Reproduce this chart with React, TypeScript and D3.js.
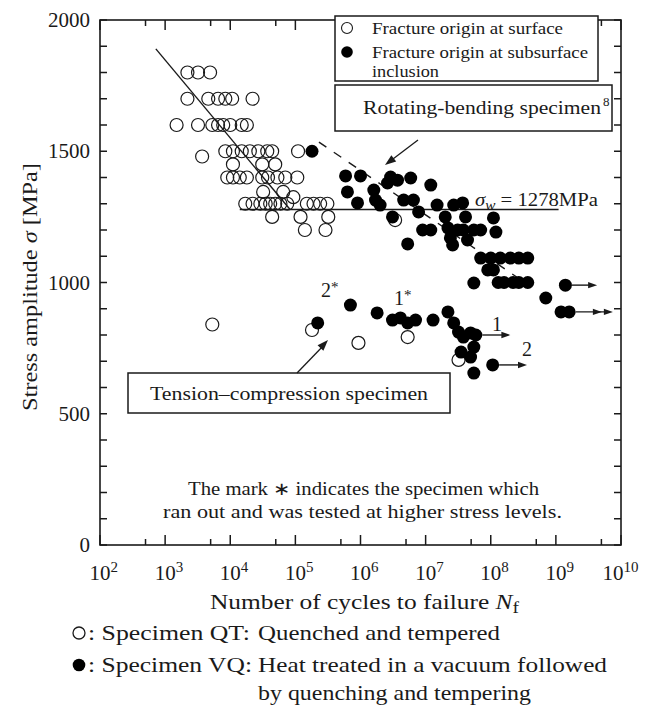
import React from "react";
import * as d3 from "d3";

// Rotating-bending, specimen QT (open, fracture at surface)
const rbQT: [number, number][] = [
  [2.2e3, 1800], [3.2e3, 1800], [4.9e3, 1800],
  [2.2e3, 1700], [4.6e3, 1700], [6.5e3, 1700], [8.4e3, 1700], [1.07e4, 1700], [2.2e4, 1700],
  [1.5e3, 1600], [3.2e3, 1600], [5.3e3, 1600], [6.5e3, 1600], [7.8e3, 1600], [1.0e4, 1600], [1.5e4, 1600], [1.8e4, 1600],
  [3.7e3, 1480],
  [8.4e3, 1500], [1.1e4, 1500], [1.5e4, 1500], [2.0e4, 1500], [2.7e4, 1500], [3.7e4, 1500], [4.4e4, 1500], [1.1e5, 1500],
  [1.1e4, 1450], [3.1e4, 1450], [4.9e4, 1450],
  [9.0e3, 1400], [1.1e4, 1400], [1.4e4, 1400], [1.8e4, 1400], [3.1e4, 1400], [3.8e4, 1400], [5.3e4, 1400], [7.0e4, 1400], [1.07e5, 1400],
  [3.2e4, 1345], [6.5e4, 1345], [9.3e4, 1325],
  [1.7e4, 1300], [2.2e4, 1300], [2.9e4, 1300], [3.5e4, 1300], [4.1e4, 1300], [4.9e4, 1300], [5.9e4, 1300], [7.5e4, 1300],
  [1.5e5, 1300], [1.9e5, 1300], [2.4e5, 1300], [3.1e5, 1300],
  [4.4e4, 1250], [1.2e5, 1250], [3.2e5, 1250],
  [1.4e5, 1200], [2.9e5, 1200],
  [3.4e6, 1238],
  [5.3e3, 840],
];

// Rotating-bending, specimen VQ (filled, fracture at subsurface inclusion)
const rbVQ: [number, number][] = [
  [1.8e5, 1500],
  [5.9e5, 1406], [1.0e6, 1406], [6.3e5, 1345], [9.0e5, 1303],
  [1.6e6, 1352], [1.7e6, 1314], [2.0e6, 1295], [2.6e6, 1379], [2.9e6, 1402], [3.1e6, 1250],
  [3.7e6, 1390], [5.9e6, 1398], [4.6e6, 1314], [6.5e6, 1314], [7.8e6, 1269], [1.2e7, 1371],
  [5.3e6, 1147], [9.0e6, 1200], [1.2e7, 1200],
  [1.5e7, 1295], [2.0e7, 1250], [2.7e7, 1295], [3.7e7, 1303],
  [2.2e7, 1208], [2.4e7, 1170], [3.1e7, 1200], [3.8e7, 1200], [5.5e7, 1200], [7.0e7, 1200],
  [4.1e7, 1250], [4.4e7, 1162], [1.1e8, 1246], [1.2e8, 1192], [2.6e7, 1143],
  [7.0e7, 1093], [1.0e8, 1093], [1.4e8, 1093], [2.0e8, 1093], [2.7e8, 1093], [3.7e8, 1093],
  [9.0e7, 1048], [1.1e8, 1048],
  [5.5e7, 998], [1.3e8, 1000], [1.6e8, 1000], [2.2e8, 1000], [2.7e8, 1000], [3.7e8, 1000],
  [7.0e8, 941],
  [1.4e9, 990], [1.2e9, 888], [1.6e9, 888],
];

// Tension-compression, specimen QT (open)
const tcQT: [number, number][] = [
  [1.8e5, 819], [9.3e5, 770], [5.3e6, 792], [3.2e7, 705],
];

// Tension-compression, specimen VQ (filled)
const tcVQ: [number, number][] = [
  [2.2e5, 846], [7.0e5, 914], [1.8e6, 884], [3.1e6, 857], [4.1e6, 865], [5.3e6, 846],
  [7.0e6, 857], [1.3e7, 857], [2.2e7, 888], [2.7e7, 846], [3.2e7, 811], [3.8e7, 792],
  [4.9e7, 808], [5.9e7, 800], [5.5e7, 754], [3.5e7, 735], [4.9e7, 716], [5.5e7, 655],
  [1.07e8, 686],
];

// Run-outs: [start N, stress, end N, number of heads]
const runouts: [number, number, number, number][] = [
  [1.4e9, 990, 4.3e9, 1],
  [1.6e9, 888, 7.5e9, 2],
  [5.9e7, 800, 2.0e8, 1],
  [1.07e8, 686, 3.6e8, 1],
];

// S-N lines
const kneeLine: [number, number][] = [[7.2e2, 1890], [8.3e4, 1278]];
const fatigueLimit: [number, number][] = [[1.4e4, 1278], [1.1e9, 1278]];
const dashedLine: [number, number][] = [[2.3e5, 1535], [2.9e8, 1010]];

const xTicks = [1e2, 1e3, 1e4, 1e5, 1e6, 1e7, 1e8, 1e9, 1e10];
const xMinor = [5e2, 5e3, 5e4, 5e5, 5e6, 5e7, 5e8, 5e9];
const yLabels = [0, 500, 1000, 1500, 2000];
const yMinor = d3.range(0, 2001, 100);

const FONT = '"Liberation Serif"';
const INK = "#1a1a1a";

type TP = {
  x: number; y: number; size: number; w?: number; anchor?: "start" | "middle" | "end";
  transform?: string; children: React.ReactNode;
};
const Txt = ({ x, y, size, w, anchor = "start", transform, children }: TP) => (
  <text
    x={x}
    y={y}
    fontSize={size}
    textAnchor={anchor}
    transform={transform}
    fill={INK}
    style={{ fontFamily: FONT }}
    {...(w ? { textLength: w, lengthAdjust: "spacingAndGlyphs" } : {})}
  >
    {children}
  </text>
);

export default function App() {
  const x = d3.scaleLog().domain([1e2, 1e10]).range([100, 621]);
  const y = d3.scaleLinear().domain([0, 2000]).range([545, 20]);
  const [x0, x1] = x.range();
  const [y0, y1] = y.range();
  const R = 6.5;
  const line = d3.line<[number, number]>().x((d) => x(d[0])).y((d) => y(d[1]));

  const arrowHead = (tx: number, ty: number, dx: number, dy: number, len = 9, w = 3.2) => {
    const L = Math.hypot(dx, dy);
    const ux = dx / L, uy = dy / L;
    const bx = tx - ux * len, by = ty - uy * len;
    return `M${tx},${ty}L${bx - uy * w},${by + ux * w}L${bx + uy * w},${by - ux * w}Z`;
  };

  return (
    <svg width={646} height={716} style={{ position: "absolute", left: 0, top: 0, background: "#fff" }}>
      <rect width={646} height={716} fill="#fff" />
      {/* frame */}
      <rect x={x0} y={y1} width={x1 - x0} height={y0 - y1} fill="none" stroke={INK} strokeWidth={1.6} />
      {xTicks.map((t) => (
        <g key={"xt" + t}>
          <line x1={x(t)} x2={x(t)} y1={y0} y2={y0 - 10} stroke={INK} strokeWidth={1.5} />
          <line x1={x(t)} x2={x(t)} y1={y1} y2={y1 + 10} stroke={INK} strokeWidth={1.5} />
        </g>
      ))}
      {xMinor.map((t) => (
        <g key={"xm" + t}>
          <line x1={x(t)} x2={x(t)} y1={y0} y2={y0 - 6} stroke={INK} strokeWidth={1.5} />
          <line x1={x(t)} x2={x(t)} y1={y1} y2={y1 + 6} stroke={INK} strokeWidth={1.5} />
        </g>
      ))}
      {yMinor.map((t) => (
        <g key={"ym" + t}>
          <line x1={x0} x2={x0 + 7} y1={y(t)} y2={y(t)} stroke={INK} strokeWidth={1.5} />
          <line x1={x1} x2={x1 - 7} y1={y(t)} y2={y(t)} stroke={INK} strokeWidth={1.5} />
        </g>
      ))}
      {yLabels.map((t) => (
        <Txt key={"yl" + t} x={x0 - 10} y={y(t) + 7} size={21} anchor="end">
          {t}
        </Txt>
      ))}
      {xTicks.map((t) => {
        const e = Math.round(Math.log10(t));
        const shift = e === 10 ? -8 : 0;
        return (
          <Txt key={"xl" + t} x={x(t) - 10.5 + shift} y={y0 + 35} size={21}>
            10
            <tspan fontSize={15} dy={-8}>{e}</tspan>
          </Txt>
        );
      })}
      {/* axis titles */}
      <Txt x={210} y={609} size={21} w={309}>
        Number of cycles to failure <tspan fontStyle="italic">N</tspan>
        <tspan fontSize={16} dy={4}>f</tspan>
      </Txt>
      <Txt x={0} y={0} size={21} w={248} anchor="middle" transform="translate(37,287) rotate(-90)">
        Stress amplitude <tspan fontStyle="italic">σ</tspan> [MPa]
      </Txt>

      {/* S-N lines */}
      <path d={line(kneeLine)!} stroke={INK} strokeWidth={1.4} fill="none" />
      <path d={line(fatigueLimit)!} stroke={INK} strokeWidth={1.4} fill="none" />
      <path d={line(dashedLine)!} stroke={INK} strokeWidth={1.4} fill="none" strokeDasharray="9,9" />

      {/* open circles */}
      {[...rbQT, ...tcQT].map((d, i) => (
        <circle key={"o" + i} cx={x(d[0])} cy={y(d[1])} r={R} fill="none" stroke={INK} strokeWidth={1.2} />
      ))}
      {/* filled circles */}
      {[...rbVQ, ...tcVQ].map((d, i) => (
        <circle key={"f" + i} cx={x(d[0])} cy={y(d[1])} r={R} fill="#000" />
      ))}
      {/* run-out arrows */}
      {runouts.map((r, i) => {
        const sx = x(r[0]) + R, ex = x(r[2]), yy = y(r[1]);
        return (
          <g key={"ro" + i}>
            <line x1={sx} x2={ex - 4} y1={yy} y2={yy} stroke={INK} strokeWidth={1.4} />
            <path d={arrowHead(ex, yy, 1, 0)} fill={INK} />
            {r[3] === 2 && <path d={arrowHead(ex - 11, yy, 1, 0)} fill={INK} />}
          </g>
        );
      })}

      {/* labels near run-outs */}
      <Txt x={497} y={331} size={20} anchor="middle">1</Txt>
      <Txt x={527} y={356} size={20} anchor="middle">2</Txt>
      <Txt x={326} y={297} size={20} anchor="middle">2</Txt>
      <Txt x={331} y={292} size={15}>*</Txt>
      <Txt x={399} y={305} size={20} anchor="middle">1</Txt>
      <Txt x={404} y={300} size={15}>*</Txt>

      {/* sigma_w label */}
      <Txt x={475} y={206} size={19} w={123}>
        <tspan fontStyle="italic">σ</tspan>
        <tspan fontStyle="italic" fontSize={14} dy={4}>w</tspan>
        <tspan dy={-4}> = 1278MPa</tspan>
      </Txt>

      {/* legend box */}
      <rect x={335} y={16} width={263} height={65} fill="#fff" stroke={INK} strokeWidth={1.5} />
      <circle cx={347} cy={28} r={5.5} fill="none" stroke={INK} strokeWidth={1.1} />
      <Txt x={372} y={34} size={16} w={191}>Fracture origin at surface</Txt>
      <circle cx={347} cy={52} r={5.8} fill="#000" />
      <Txt x={372} y={58} size={16} w={216}>Fracture origin at subsurface</Txt>
      <Txt x={372} y={77} size={16} w={67}>inclusion</Txt>

      {/* rotating-bending box */}
      <rect x={335} y={85} width={277} height={46} fill="#fff" stroke={INK} strokeWidth={1.5} />
      <Txt x={363} y={114} size={19} w={238}>Rotating-bending specimen</Txt>
      <Txt x={603} y={106} size={13} anchor="start">8</Txt>
      <line x1={418} y1={140} x2={389} y2={162} stroke={INK} strokeWidth={1.3} />
      <path d={arrowHead(385, 165, -33, 25, 11, 4)} fill={INK} />

      {/* tension-compression box */}
      <rect x={128} y={373} width={322} height={40} fill="#fff" stroke={INK} strokeWidth={1.5} />
      <Txt x={150} y={400} size={19} w={278}>Tension–compression specimen</Txt>
      <line x1={297} y1={373} x2={325} y2={344} stroke={INK} strokeWidth={1.3} />
      <path d={arrowHead(328, 340, 31, -33, 11, 4)} fill={INK} />

      {/* note */}
      <Txt x={188} y={495} size={18} w={351}>The mark ∗ indicates the specimen which</Txt>
      <Txt x={163} y={518} size={18} w={399}>ran out and was tested at higher stress levels.</Txt>

      {/* bottom legend */}
      <circle cx={79} cy={633} r={6} fill="none" stroke={INK} strokeWidth={1.3} />
      <Txt x={88} y={640} size={21} w={162}>: Specimen QT:</Txt>
      <Txt x={258} y={640} size={21} w={242}>Quenched and tempered</Txt>
      <circle cx={79} cy={665} r={6.3} fill="#000" />
      <Txt x={88} y={672} size={21} w={164}>: Specimen VQ:</Txt>
      <Txt x={258} y={672} size={21} w={349}>Heat treated in a vacuum followed</Txt>
      <Txt x={258} y={700} size={21} w={273}>by quenching and tempering</Txt>
    </svg>
  );
}
